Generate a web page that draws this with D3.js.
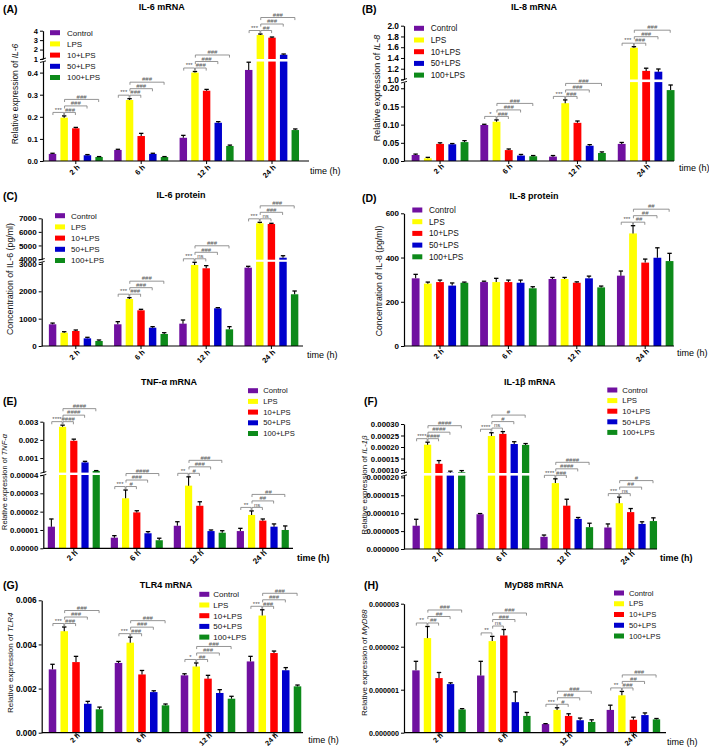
<!DOCTYPE html>
<html><head><meta charset="utf-8">
<script src="https://cdn.jsdelivr.net/npm/d3@7"></script>
<style>body{margin:0;background:#fff}svg{display:block;font-family:"Liberation Sans",Arial,sans-serif}</style>
</head><body><svg id="c" width="709" height="751"></svg>
<script>
// ---------- shared categories ----------
const timepoints = ["2 h", "6 h", "12 h", "24 h"];
const seriesNames = ["Control", "LPS", "10+LPS", "50+LPS", "100+LPS"];
const seriesColors = ["#7010a0", "#ffff00", "#ff0000", "#0000cd", "#0d8a1a"];
const comparisons = [[0, 1], [1, 2], [1, 3], [1, 4]];

// ---------- (A) IL-6 mRNA ----------
const il6mRNAValues = [
  [0.032, 0.196, 0.148, 0.026, 0.018],
  [0.050, 0.276, 0.113, 0.032, 0.018],
  [0.105, 0.400, 0.318, 0.173, 0.068],
  [0.412, 3.54, 3.26, 1.45, 0.140]
];
const il6mRNAErrors = [
  [0.003, 0.008, 0.004, 0.003, 0.002],
  [0.003, 0.006, 0.012, 0.003, 0.002],
  [0.011, 0.005, 0.006, 0.005, 0.004],
  [0.035, 0.11, 0.07, 0.08, 0.005]
];
const il6mRNASig = [
  ["***", "###", "###", "###"],
  ["***", "###", "###", "###"],
  ["***", "###", "###", "###"],
  ["***", "##", "###", "###"]
];
const il6mRNALowTicks = [0, 0.1, 0.2, 0.3, 0.4];
const il6mRNALowLabels = ["0.0", "0.1", "0.2", "0.3", "0.4"];
const il6mRNAUpTicks = [1, 2, 3, 4];
const il6mRNAUpLabels = ["1", "2", "3", "4"];

// ---------- (B) IL-8 mRNA ----------
const il8mRNAValues = [
  [0.0165, 0.0074, 0.047, 0.046, 0.052],
  [0.099, 0.108, 0.030, 0.015, 0.013],
  [0.012, 0.159, 0.105, 0.042, 0.022],
  [0.047, 1.59, 1.16, 1.145, 0.195]
];
const il8mRNAErrors = [
  [0.0025, 0.0026, 0.003, 0.002, 0.004],
  [0.002, 0.005, 0.003, 0.003, 0.002],
  [0.003, 0.009, 0.005, 0.003, 0.003],
  [0.004, 0.02, 0.05, 0.05, 0.014]
];
const il8mRNASig = [
  null,
  ["*", "###", "###", "###"],
  ["***", "###", "###", "###"],
  ["***", "###", "###", "###"]
];
const il8mRNALowTicks = [0, 0.05, 0.10, 0.15, 0.20];
const il8mRNALowLabels = ["0.00", "0.05", "0.10", "0.15", "0.20"];
const il8mRNAUpTicks = [1.0, 1.2, 1.4, 1.6, 1.8, 2.0];
const il8mRNAUpLabels = ["1.0", "1.2", "1.4", "1.6", "1.8", "2.0"];

// ---------- (C) IL-6 protein ----------
const il6ProteinValues = [
  [794, 487, 549, 280, 183],
  [794, 1720, 1305, 670, 439],
  [817, 2964, 2843, 1379, 610],
  [2866, 6630, 6579, 4096, 1892]
];
const il6ProteinErrors = [
  [45, 36, 36, 38, 37],
  [96, 48, 37, 37, 48],
  [134, 98, 97, 24, 97],
  [49, 74, 52, 147, 120]
];
const il6ProteinSig = [
  null,
  ["***", "###", "###", "###"],
  ["***", "ns", "###", "###"],
  ["***", "ns", "###", "###"]
];
const il6ProteinLowTicks = [0, 1000, 2000, 3000];
const il6ProteinLowLabels = ["0", "1000", "2000", "3000"];
const il6ProteinUpTicks = [4000, 5000, 6000, 7000];
const il6ProteinUpLabels = ["4000", "5000", "6000", "7000"];

// ---------- (D) IL-8 protein ----------
const il8ProteinValues = [
  [306, 282, 289, 273, 286],
  [289, 289, 289, 286, 261],
  [303, 303, 286, 306, 265],
  [318, 509, 377, 399, 384]
];
const il8ProteinErrors = [
  [18, 7, 9, 12, 3],
  [4, 17, 9, 12, 7],
  [7, 7, 4, 10, 6],
  [21, 35, 16, 45, 35]
];
const il8ProteinSig = [null, null, null, ["***", "##", "##", "##"]];
const il8ProteinTicks = [0, 200, 400, 600];
const il8ProteinLabels = ["0", "200", "400", "600"];

// ---------- (E) TNF-α mRNA ----------
const tnfValues = [
  [1.18e-5, 0.00272, 0.00195, 0.00076, 0.00029],
  [5.8e-6, 2.73e-5, 1.96e-5, 8.2e-6, 4.4e-6],
  [1.23e-5, 3.42e-5, 2.32e-5, 9.4e-6, 8.5e-6],
  [9.4e-6, 1.82e-5, 1.51e-5, 1.18e-5, 1.0e-5]
];
const tnfErrors = [
  [4.2e-6, 0.00009, 0.00009, 0.00006, 0.00002],
  [1.1e-6, 4.5e-6, 9e-7, 9e-7, 1.1e-6],
  [2.2e-6, 4.8e-6, 2.2e-6, 6e-7, 1.1e-6],
  [1.5e-6, 2.2e-6, 9e-7, 1.5e-6, 2.2e-6]
];
const tnfSig = [
  ["****", "####", "####", "####"],
  ["***", "#", "###", "####"],
  ["**", "#", "###", "###"],
  ["**", "ns", "##", "##"]
];
const tnfLowTicks = [0, 1e-5, 2e-5, 3e-5, 4e-5];
const tnfLowLabels = ["0.00000", "0.00001", "0.00002", "0.00003", "0.00004"];
const tnfUpTicks = [0.001, 0.002, 0.003];
const tnfUpLabels = ["0.001", "0.002", "0.003"];

// ---------- (F) IL-1β mRNA ----------
const il1bValues = [
  [6.5e-6, 0.000210, 0.000127, 0.000088, 0.000090],
  [9.7e-6, 0.000248, 0.000257, 0.000213, 0.000209],
  [3.4e-6, 1.84e-5, 1.21e-5, 8.4e-6, 6.1e-6],
  [6.0e-6, 1.28e-5, 1.03e-5, 7.0e-6, 7.8e-6]
];
const il1bErrors = [
  [1.8e-6, 0.000011, 0.000014, 0.000007, 0.0000075],
  [2e-7, 0.000014, 0.000010, 0.000010, 0.000006],
  [5e-7, 1.2e-6, 1.8e-6, 4e-7, 1.1e-6],
  [1.0e-6, 1.7e-6, 1.0e-6, 6e-7, 9e-7]
];
const il1bSig = [
  ["****", "####", "####", "####"],
  ["****", "ns", "#", "#"],
  ["****", "###", "####", "####"],
  ["***", "ns", "##", "#"]
];
const il1bLowTicks = [0, 5e-6, 1e-5, 1.5e-5, 2e-5];
const il1bLowLabels = ["0.000000", "0.000005", "0.000010", "0.000015", "0.000020"];
const il1bUpTicks = [0.0001, 0.00015, 0.0002, 0.00025, 0.0003];
const il1bUpLabels = ["0.00010", "0.00015", "0.00020", "0.00025", "0.00030"];

// ---------- (G) TLR4 mRNA ----------
const tlr4Values = [
  [0.00287, 0.0046, 0.0032, 0.00131, 0.00106],
  [0.00316, 0.00408, 0.00264, 0.00184, 0.00124],
  [0.0026, 0.0030, 0.00245, 0.0018, 0.00154],
  [0.00323, 0.00531, 0.00361, 0.00283, 0.0021]
];
const tlr4Errors = [
  [0.00023, 0.00019, 0.00026, 0.00011, 0.0001],
  [0.00007, 0.00025, 0.00018, 0.00006, 0.00006],
  [0.00007, 0.00016, 0.00015, 0.00015, 0.00011],
  [0.00023, 0.00026, 0.00009, 0.00012, 0.00006]
];
const tlr4Sig = [
  ["***", "###", "###", "###"],
  ["***", "###", "###", "###"],
  ["*", "##", "###", "###"],
  ["***", "###", "###", "###"]
];
const tlr4Ticks = [0, 0.002, 0.004, 0.006];
const tlr4Labels = ["0.000", "0.002", "0.004", "0.006"];

// ---------- (H) MyD88 mRNA ----------
const myd88Values = [
  [1.45e-6, 2.20e-6, 1.27e-6, 1.13e-6, 0.54e-6],
  [1.33e-6, 2.13e-6, 2.26e-6, 0.71e-6, 0.39e-6],
  [0.20e-6, 0.53e-6, 0.39e-6, 0.29e-6, 0.25e-6],
  [0.53e-6, 0.87e-6, 0.30e-6, 0.41e-6, 0.31e-6]
];
const myd88Errors = [
  [0.21e-6, 0.27e-6, 0.13e-6, 0.03e-6, 0.02e-6],
  [0.33e-6, 0.11e-6, 0.14e-6, 0.24e-6, 0.08e-6],
  [0.01e-6, 0.05e-6, 0.05e-6, 0.05e-6, 0.05e-6],
  [0.11e-6, 0.09e-6, 0.06e-6, 0.05e-6, 0.02e-6]
];
const myd88Sig = [
  ["**", "##", "##", "###"],
  ["**", "ns", "###", "###"],
  ["***", "#", "###", "###"],
  ["**", "###", "##", "###"]
];
const myd88Ticks = [0, 1e-6, 2e-6, 3e-6];
const myd88Labels = ["0.000000", "0.000001", "0.000002", "0.000003"];

// ---------- panel table (layout only + references to data) ----------
const panels = [
  { tag: "(A)", title: "IL-6 mRNA", yLabel: [["Relative expression of ", 0], ["IL-6", 1]],
    values: il6mRNAValues, errors: il6mRNAErrors, sig: il6mRNASig,
    low: { domain: [0, 0.45], range: [161, 61.55], ticks: il6mRNALowTicks, labels: il6mRNALowLabels },
    up: { domain: [1, 4], range: [59, 30.7], ticks: il6mRNAUpTicks, labels: il6mRNAUpLabels },
    L: { axisX: 43, xRange: [43.1, 304.7], xEnd: 309, tickFont: 7.5, xTickFont: 7.5, xTickDy: 5,
      yl: [15, 94, 8.5], title: [161.8, 9.5], tag: [3, 13], time: [310, 174, 9, 400],
      legend: [50, 32.7, 11.2, 8, 17] } },
  { tag: "(B)", title: "IL-8 mRNA", yLabel: [["Relative expression of ", 0], ["IL-8", 1]],
    values: il8mRNAValues, errors: il8mRNAErrors, sig: il8mRNASig,
    low: { domain: [0, 0.217], range: [161, 82.1], ticks: il8mRNALowTicks, labels: il8mRNALowLabels },
    up: { domain: [1, 2], range: [79.5, 25.7], ticks: il8mRNAUpTicks, labels: il8mRNAUpLabels },
    L: { axisX: 404, xRange: [405.7, 680.5], xEnd: 674, tickFont: 8.3, xTickFont: 7.5, xTickDy: 4,
      yl: [377, 88, 9], title: [534, 10], tag: [362, 13], time: [679, 171, 9, 400],
      legend: [414, 28.3, 11.7, 8.3, 16.7] } },
  { tag: "(C)", title: "IL-6 protein", yLabel: [["Concentration of IL-6 (pg/ml)", 0]],
    values: il6ProteinValues, errors: il6ProteinErrors, sig: il6ProteinSig,
    low: { domain: [0, 3080], range: [346, 261.8], ticks: il6ProteinLowTicks, labels: il6ProteinLowLabels },
    up: { domain: [3950, 7000], range: [259.7, 218.3], ticks: il6ProteinUpTicks, labels: il6ProteinUpLabels },
    L: { axisX: 41.7, xRange: [43.2, 304], xEnd: 303, tickFont: 8, xTickFont: 7.5, xTickDy: 5,
      yl: [10, 279, 8.8], title: [181, 197.5], tag: [3, 200], time: [307, 358, 9, 400],
      legend: [55, 215.7, 11.2, 8, 16] } },
  { tag: "(D)", title: "IL-8 protein", yLabel: [["Concentration of IL-8 (pg/ml)", 0]],
    values: il8ProteinValues, errors: il8ProteinErrors, sig: il8ProteinSig,
    low: { domain: [0, 600], range: [346, 213.3], ticks: il8ProteinTicks, labels: il8ProteinLabels },
    up: null,
    L: { axisX: 404, xRange: [405.8, 679.4], xEnd: 674, tickFont: 8, xTickFont: 7.5, xTickDy: 4,
      yl: [379, 281, 8.7], title: [534, 198.5], tag: [362, 201.7], time: [677, 356, 9, 400],
      legend: [412.3, 210, 11.7, 8.3, 16.7] } },
  { tag: "(E)", title: "TNF-α mRNA", yLabel: [["Relative expression of ", 0], ["TNF-α", 1]],
    values: tnfValues, errors: tnfErrors, sig: tnfSig,
    low: { domain: [0, 0.00004], range: [548.3, 475], ticks: tnfLowTicks, labels: tnfLowLabels },
    up: { domain: [0.0002, 0.003], range: [472.6, 421.7], ticks: tnfUpTicks, labels: tnfUpLabels },
    L: { axisX: 43.3, xRange: [42.3, 294.3], xEnd: 293, tickFont: 7.8, xTickFont: 8, xTickDy: 3,
      yl: [4, 482, 7.4], title: [169, 384.5], tag: [3, 405], time: [297, 561, 9, 700],
      legend: [248, 390.7, 10.7, 7.6, 15.3] } },
  { tag: "(F)", title: "IL-1β mRNA", yLabel: [["Relative expression of ", 0], ["IL-1β", 1]],
    values: il1bValues, errors: il1bErrors, sig: il1bSig,
    low: { domain: [0, 0.0000205], range: [549, 475.6], ticks: il1bLowTicks, labels: il1bLowLabels },
    up: { domain: [0.000087, 0.0003], range: [473, 424], ticks: il1bUpTicks, labels: il1bUpLabels },
    L: { axisX: 404, xRange: [407, 662.6], xEnd: 657, tickFont: 7.8, xTickFont: 8, xTickDy: 3,
      yl: [364, 485, 8], title: [529.8, 385], tag: [364, 405], time: [660, 561, 9, 700],
      legend: [607.3, 390, 10.6, 7.8, 15] } },
  { tag: "(G)", title: "TLR4 mRNA", yLabel: [["Relative expression of ", 0], ["TLR4", 1]],
    values: tlr4Values, errors: tlr4Errors, sig: tlr4Sig,
    low: { domain: [0, 0.006], range: [732.7, 600.3], ticks: tlr4Ticks, labels: tlr4Labels },
    up: null,
    L: { axisX: 41.7, xRange: [43, 307], xEnd: 303, tickFont: 8.3, xTickFont: 7.2, xTickDy: 1.5,
      yl: [10, 662.8, 8], title: [166, 588], tag: [3, 588.7], time: [308.3, 743, 9, 400],
      legend: [199.3, 594.3, 10.7, 8, 14] } },
  { tag: "(H)", title: "MyD88 mRNA", yLabel: [["Relative expression of ", 0], ["MyD88", 1]],
    values: myd88Values, errors: myd88Errors, sig: myd88Sig,
    low: { domain: [0, 0.000003], range: [732.7, 603.7], ticks: myd88Ticks, labels: myd88Labels },
    up: null,
    L: { axisX: 404, xRange: [406.6, 665.8], xEnd: 666, tickFont: 7.2, xTickFont: 7.2, xTickDy: 1.5,
      yl: [364, 662.8, 8], title: [534, 588], tag: [364, 588.7], time: [667, 745, 9, 400],
      legend: [614, 593, 10.75, 7.6, 15] } }
];

const svg = d3.select("#c");

function styleAxis(sel, fs) {
  sel.select(".domain").attr("stroke", "#000").attr("stroke-width", 1.2);
  sel.selectAll(".tick line").attr("stroke", "#000").attr("stroke-width", 1);
  sel.selectAll(".tick text").attr("fill", "#000").attr("font-size", fs)
    .attr("font-weight", 700).attr("font-family", '"Liberation Sans",Arial,sans-serif');
}

function drawPanel(p) {
  const L = p.L;
  const g = svg.append("g");
  const lowS = d3.scaleLinear().domain(p.low.domain).range(p.low.range);
  const upS = p.up ? d3.scaleLinear().domain(p.up.domain).range(p.up.range) : null;
  const inUp = v => upS && v >= p.up.domain[0];
  const yOf = v => inUp(v) ? upS(Math.min(v, p.up.domain[1] * 1.04)) : lowS(Math.min(v, p.low.domain[1]));
  const x = d3.scaleBand().domain(timepoints).range(L.xRange);
  const bw = x.bandwidth();
  const xi = d3.scaleBand().domain(seriesNames).range([bw * 0.087, bw * 0.913]).paddingInner(0.36);
  const y0 = lowS(0);
  const left = (i, j) => x(timepoints[i]) + xi(seriesNames[j]);
  const cx = (i, j) => left(i, j) + xi.bandwidth() / 2;

  // bars
  p.values.forEach((row, i) => row.forEach((v, j) => {
    if (inUp(v)) {
      const lt = lowS(p.low.domain[1]);
      g.append("rect").attr("x", left(i, j)).attr("width", xi.bandwidth())
        .attr("y", lt).attr("height", y0 - lt).attr("fill", seriesColors[j]);
      const ub = upS(p.up.domain[0]);
      g.append("rect").attr("x", left(i, j)).attr("width", xi.bandwidth())
        .attr("y", upS(v)).attr("height", ub - upS(v)).attr("fill", seriesColors[j]);
    } else {
      g.append("rect").attr("x", left(i, j)).attr("width", xi.bandwidth())
        .attr("y", lowS(v)).attr("height", y0 - lowS(v)).attr("fill", seriesColors[j]);
    }
  }));

  // error bars (upper only)
  p.values.forEach((row, i) => row.forEach((v, j) => {
    const e = p.errors[i][j];
    const yv = yOf(v), ye = yOf(v + e);
    const c = cx(i, j);
    g.append("line").attr("x1", c).attr("x2", c).attr("y1", yv).attr("y2", ye)
      .attr("stroke", "#000").attr("stroke-width", 1.1);
    g.append("line").attr("x1", c - 2.2).attr("x2", c + 2.2).attr("y1", ye).attr("y2", ye)
      .attr("stroke", "#000").attr("stroke-width", 1.3);
  }));

  // y axes
  const axL = g.append("g").attr("transform", `translate(${L.axisX},0)`)
    .call(d3.axisLeft(lowS).tickValues(p.low.ticks).tickFormat((d, k) => p.low.labels[k]).tickSize(3).tickSizeOuter(0).tickPadding(2));
  styleAxis(axL, L.tickFont);
  if (upS) {
    const axU = g.append("g").attr("transform", `translate(${L.axisX},0)`)
      .call(d3.axisLeft(upS).tickValues(p.up.ticks).tickFormat((d, k) => p.up.labels[k]).tickSize(3).tickSizeOuter(0).tickPadding(2));
    styleAxis(axU, L.tickFont);
    const yb = (lowS(p.low.domain[1]) + upS(p.up.domain[0])) / 2;
    [-1.4, 1.4].forEach(d => {
      g.append("line").attr("x1", L.axisX - 3).attr("x2", L.axisX + 3)
        .attr("y1", yb + d + 0.8).attr("y2", yb + d - 0.8)
        .attr("stroke", "#000").attr("stroke-width", 0.9);
    });
  }

  // x axis
  g.append("line").attr("x1", L.axisX).attr("x2", L.xEnd).attr("y1", y0).attr("y2", y0)
    .attr("stroke", "#000").attr("stroke-width", 1.2);
  timepoints.forEach(t => {
    const c = x(t) + bw / 2;
    g.append("line").attr("x1", c).attr("x2", c).attr("y1", y0).attr("y2", y0 + 3)
      .attr("stroke", "#000").attr("stroke-width", 1);
    g.append("text").attr("transform", `translate(${c + 2.5},${y0 + L.xTickDy}) rotate(-45)`)
      .attr("text-anchor", "end").attr("dy", "0.35em")
      .attr("font-size", L.xTickFont).attr("font-weight", 700).text(t);
  });

  // significance brackets
  p.sig.forEach((labs, i) => {
    if (!labs) return;
    const ys = [];
    comparisons.forEach(([a, b], k) => {
      let yy = d3.min(d3.range(a, b + 1), j => yOf(p.values[i][j] + p.errors[i][j])) - 3.5;
      if (k >= 2) yy = Math.min(yy, d3.min(ys) - 6.5);
      ys.push(yy);
      const x1 = cx(i, a) + 0.4, x2 = cx(i, b) - 0.4;
      g.append("path").attr("d", `M${x1},${yy + 2.6}V${yy}H${x2}V${yy + 2.6}`)
        .attr("fill", "none").attr("stroke", "#7a7a7a").attr("stroke-width", 0.8);
      g.append("text").attr("x", (x1 + x2) / 2).attr("y", yy - 0.7)
        .attr("text-anchor", "middle").attr("font-size", 6).attr("fill", "#555").text(labs[k]);
    });
  });

  // y label
  const yl = g.append("text").attr("transform", `translate(${L.yl[0]},${L.yl[1]}) rotate(-90)`)
    .attr("text-anchor", "middle").attr("dy", "0.35em").attr("font-size", L.yl[2]).attr("fill", "#111");
  p.yLabel.forEach(([s, it]) => yl.append("tspan").attr("font-style", it ? "italic" : "normal").text(s));

  // title, tag, time label
  g.append("text").attr("x", L.title[0]).attr("y", L.title[1]).attr("text-anchor", "middle")
    .attr("font-size", 9).attr("font-weight", 700).text(p.title);
  g.append("text").attr("x", L.tag[0]).attr("y", L.tag[1])
    .attr("font-size", 10.5).attr("font-weight", 700).text(p.tag);
  g.append("text").attr("x", L.time[0]).attr("y", L.time[1]).attr("font-size", L.time[2])
    .attr("font-weight", L.time[3]).text("time (h)");

  // legend
  const [lx, ly, ls, lf, ldx] = L.legend;
  seriesNames.forEach((s, j) => {
    g.append("rect").attr("x", lx).attr("y", ly + j * ls - 2.5).attr("width", 10).attr("height", 5)
      .attr("fill", seriesColors[j]);
    g.append("text").attr("x", lx + ldx).attr("y", ly + j * ls).attr("dy", "0.35em")
      .attr("font-size", lf).attr("fill", "#111").text(s);
  });
}

panels.forEach(drawPanel);
</script>
</body></html>
